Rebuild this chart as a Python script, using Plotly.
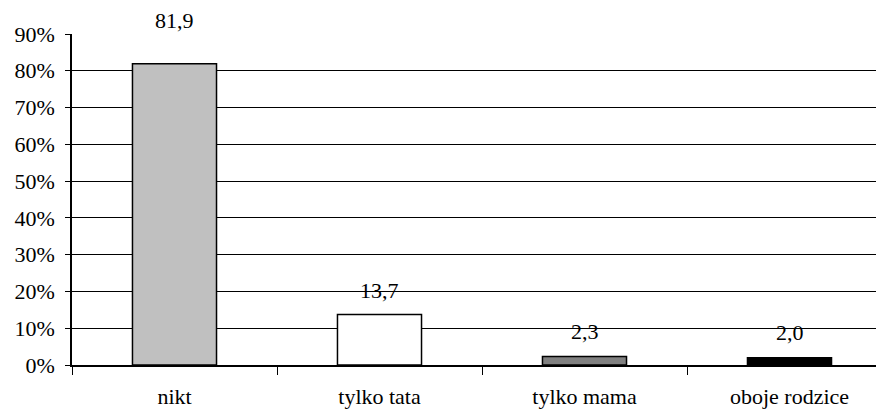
import plotly.graph_objects as go

categories = ["nikt", "tylko tata", "tylko mama", "oboje rodzice"]
values = [81.9, 13.7, 2.3, 2.0]
labels = ["81,9", "13,7", "2,3", "2,0"]
colors = ["#c0c0c0", "#ffffff", "#808080", "#000000"]
label_shift = [43, 24, 25, 25]

font = dict(family="Liberation Serif", size=22, color="#000000")

fig = go.Figure()
fig.add_trace(go.Bar(
    x=categories, y=values,
    marker=dict(color=colors, line=dict(color="#000000", width=1.5)),
    width=0.41,
    hoverinfo="skip",
))
for c, v, t, s in zip(categories, values, labels, label_shift):
    fig.add_annotation(x=c, y=v, text=t, showarrow=False, yshift=s,
                       font=font, yanchor="middle")

# page body has an 8px margin, so the figure is sized to end at the window edge
fig.update_layout(
    width=876, height=401,
    margin=dict(l=64, r=0, t=26, b=44),
    paper_bgcolor="white", plot_bgcolor="white",
    font=font, showlegend=False,
)
fig.update_xaxes(
    range=[-0.5, 3.461], automargin=False,
    showline=True, linecolor="#000000", linewidth=1.5,
    ticks="outside", tickson="boundaries", ticklen=8, tickcolor="#000000", tickwidth=1,
    ticklabelstandoff=11,
    showgrid=False, zeroline=False,
)
fig.update_yaxes(
    range=[0, 90], dtick=10, ticksuffix="%", automargin=False,
    showline=True, linecolor="#000000", linewidth=1.5,
    ticks="outside", ticklen=5, tickcolor="#000000", tickwidth=1,
    ticklabelstandoff=6,
    showgrid=True, gridcolor="#000000", gridwidth=1,
    zeroline=False,
)
fig.write_html("out.html")
